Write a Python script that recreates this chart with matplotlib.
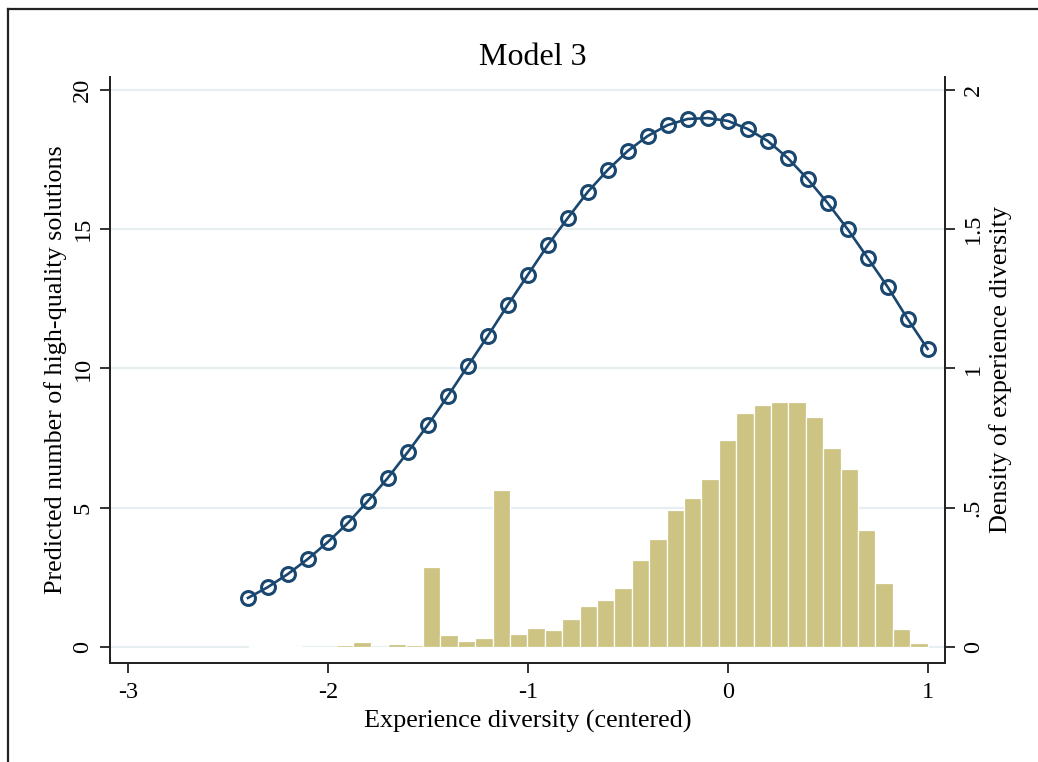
import matplotlib.pyplot as plt
import matplotlib.lines as mlines
import numpy as np

plt.rcParams['font.family'] = ['Liberation Serif', 'DejaVu Serif']

# predicted values (left axis)
pred_x = np.linspace(-2.4, 1.0, 35)
pred_y = [1.76, 2.15, 2.62, 3.16, 3.77, 4.45, 5.24, 6.07, 7.00, 7.97,
          9.01, 10.09, 11.17, 12.28, 13.36, 14.43, 15.40, 16.34, 17.13, 17.81,
          18.35, 18.74, 18.96, 18.99, 18.89, 18.60, 18.17, 17.56, 16.80, 15.94,
          15.00, 13.97, 12.93, 11.78, 10.70]

# histogram of experience diversity (right axis, density)
bin_edges = np.linspace(-2.395, 1.0, 40)
density = [0.002, 0.002, 0.002, 0.0, 0.0, 0.007, 0.019, 0.0, 0.011, 0.007,
           0.288, 0.043, 0.020, 0.033, 0.562, 0.047, 0.068, 0.062, 0.100, 0.147,
           0.169, 0.210, 0.312, 0.387, 0.490, 0.534, 0.602, 0.742, 0.840, 0.868,
           0.879, 0.879, 0.825, 0.713, 0.640, 0.419, 0.231, 0.066, 0.014]

x_ticks = [-3, -2, -1, 0, 1]
x_ticklabels = ['-3', '-2', '-1', '0', '1']
left_ticks = [0, 5, 10, 15, 20]
left_ticklabels = ['0', '5', '10', '15', '20']
right_ticks = [0, 0.5, 1, 1.5, 2]
right_ticklabels = ['0', '.5', '1', '1.5', '2']

navy = '#1a476f'
khaki = '#cdc383'
grid_col = '#e6eef1'

fig = plt.figure(figsize=(10.38, 7.62), dpi=100)
ax = fig.add_axes([0.106, 0.130, 0.804, 0.769])
ax2 = ax.twinx()
ax.set_zorder(ax2.get_zorder() + 1)
ax.patch.set_visible(False)

# bars on the right axis, behind the curve
ax2.bar(bin_edges[:-1], density, width=np.diff(bin_edges), align='edge',
        color=khaki, edgecolor='white', linewidth=0.9, zorder=2)
ax2.set_ylim(-0.0575, 2.0467)
ax2.set_yticks(right_ticks)
ax2.set_yticklabels(right_ticklabels, rotation=90, va='center')
ax2.grid(axis='y', color=grid_col, linewidth=1.6, zorder=0)
ax2.set_axisbelow(True)
ax2.set_ylabel('Density of experience diversity', fontsize=18.8, labelpad=4)

ax.plot(pred_x, pred_y, color=navy, linewidth=1.9, marker='o', markersize=10,
        markerfacecolor='none', markeredgecolor=navy, markeredgewidth=2.2,
        zorder=3)
ax.set_xlim(-3.09, 1.085)
ax.set_ylim(-0.575, 20.467)
ax.set_xticks(x_ticks)
ax.set_xticklabels(x_ticklabels)
ax.set_yticks(left_ticks)
ax.set_yticklabels(left_ticklabels, rotation=90, va='center')
ax.set_xlabel('Experience diversity (centered)', fontsize=18.8, labelpad=5)
ax.set_ylabel('Predicted number of high-quality solutions', fontsize=18.8, labelpad=4)

for a in (ax, ax2):
    a.spines['top'].set_visible(False)
    for s in a.spines.values():
        s.set_linewidth(1.3)
        s.set_color('#222222')
    a.tick_params(length=7, width=1.3, color='#222222', labelsize=17.5)
ax.tick_params(axis='x', pad=7)
ax.tick_params(axis='y', pad=5)
ax2.tick_params(axis='y', pad=6)

fig.text(0.5135, 0.925, 'Model 3', ha='center', va='center', fontsize=23)

# outer frame (top and left edges)
fig.add_artist(mlines.Line2D([0.0077, 1.0], [0.988, 0.988], color='#222222', linewidth=1.6))
fig.add_artist(mlines.Line2D([0.0077, 0.0077], [0.0, 0.988], color='#222222', linewidth=1.6))

fig.savefig('out.png', dpi=100)
